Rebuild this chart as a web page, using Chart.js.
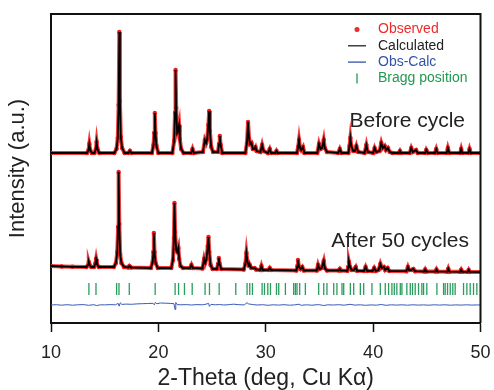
<!DOCTYPE html>
<html>
<head>
<meta charset="utf-8">
<script src="https://cdn.jsdelivr.net/npm/chart.js@4.4.1/dist/chart.umd.min.js"></script>
<style>
  body { margin: 0; background: #fff; }
  #wrap { width: 494px; height: 390px; }
</style>
</head>
<body>
<div id="wrap"><canvas id="myChart" width="494" height="390"></canvas></div>
<script>
// XRD refinement, values: [2theta, intensity above own baseline]
const beforeCycle = [
  [10, 0],
  [13.35, 0], [13.5, 3], [13.57, 9], [13.65, 3], [13.8, 0],
  [14.05, 0], [14.18, 4], [14.25, 11], [14.33, 4], [14.5, 0],
  [15.9, 0], [16.1, 4], [16.22, 15], [16.3, 48], [16.36, 121], [16.42, 52], [16.5, 16], [16.62, 5], [16.85, 0],
  [17.2, 0], [17.35, 2], [17.5, 0],
  [19.4, 0], [19.55, 8], [19.62, 20], [19.67, 40], [19.73, 20], [19.82, 7], [20.0, 0],
  [21.3, 0], [21.47, 12], [21.55, 40], [21.6, 83], [21.66, 45], [21.75, 20], [21.83, 22], [21.93, 28], [22.0, 14], [22.12, 4], [22.35, 0],
  [23.05, 0], [23.18, 4], [23.3, 0],
  [24.15, 1], [24.33, 13], [24.45, 10], [24.55, 14], [24.66, 28], [24.73, 42], [24.8, 22], [24.92, 6], [25.1, 1],
  [25.55, 1], [25.65, 9], [25.72, 17], [25.8, 8], [25.95, 0],
  [28.1, 0], [28.25, 10], [28.35, 31], [28.45, 14], [28.55, 9], [28.67, 10], [28.8, 4], [28.92, 4], [29.04, 6], [29.15, 2],
  [29.5, 1], [29.66, 8], [29.8, 2],
  [30.2, 0], [30.37, 4], [30.5, 0],
  [30.9, 0], [31.0, 2], [31.1, 0],
  [32.9, 0], [33.02, 6], [33.1, 13], [33.2, 5], [33.3, 3], [33.47, 6], [33.6, 0],
  [34.8, 0], [34.96, 9], [35.1, 4], [35.25, 5], [35.4, 13], [35.5, 5], [35.7, 1],
  [36.75, 0], [36.9, 4], [37.05, 0],
  [37.7, 0], [37.8, 7], [37.88, 15], [37.97, 7], [38.15, 2], [38.3, 2], [38.44, 7], [38.6, 1],
  [39.2, 0], [39.37, 8], [39.5, 1],
  [40.0, 0], [40.14, 5], [40.3, 1], [40.6, 2], [40.76, 10], [40.9, 5], [41.07, 7], [41.2, 3], [41.38, 5], [41.55, 1], [41.8, 0],
  [42.4, 0], [42.5, 2], [42.6, 0],
  [43.4, 0], [43.55, 5], [43.7, 1], [44.0, 3], [44.15, 0],
  [44.85, 0], [44.95, 3], [45.1, 0],
  [45.75, 0], [45.88, 4], [46.0, 0],
  [46.85, 0], [46.96, 5], [47.1, 0],
  [48.1, 0], [48.2, 4], [48.3, 0],
  [48.88, 0], [48.98, 4], [49.1, 0],
  [50, 0]
]

const after50 = [
  [10, 6], [11, 5.5], [12, 5.2],
  [13.3, 5], [13.45, 7], [13.52, 10], [13.6, 7], [13.75, 5],
  [14.0, 5], [14.12, 8], [14.2, 13], [14.28, 8], [14.45, 5],
  [15.85, 5], [16.05, 9], [16.17, 20], [16.25, 45], [16.3, 100], [16.36, 48], [16.44, 18], [16.56, 9], [16.8, 5],
  [17.2, 4.5], [17.3, 6], [17.45, 4.5],
  [19.3, 4], [19.47, 10], [19.54, 20], [19.58, 39], [19.64, 20], [19.74, 9], [19.95, 4],
  [21.2, 4], [21.36, 12], [21.45, 34], [21.5, 69], [21.56, 40], [21.66, 22], [21.76, 20], [21.86, 24], [21.94, 13], [22.06, 6], [22.3, 4],
  [22.95, 4], [23.08, 7], [23.2, 4],
  [24.1, 3.5], [24.26, 13], [24.36, 9], [24.48, 13], [24.6, 26], [24.67, 35], [24.74, 20], [24.86, 7], [25.05, 3],
  [25.45, 3], [25.56, 8], [25.63, 14], [25.71, 8], [25.85, 3],
  [27.95, 2.5], [28.1, 8], [28.2, 19], [28.3, 10], [28.45, 6], [28.52, 7], [28.65, 4], [28.95, 4], [29.1, 2.5],
  [29.5, 2], [29.6, 6], [29.72, 2],
  [30.25, 2], [30.37, 4], [30.5, 2],
  [32.85, 1.5], [32.95, 6], [33.0, 12], [33.1, 5], [33.25, 3], [33.4, 5], [33.55, 1.5],
  [34.75, 1.5], [34.87, 7], [35.0, 3], [35.2, 4], [35.4, 11], [35.5, 4], [35.7, 1.5],
  [36.8, 1.5], [36.9, 3], [37.0, 1.5],
  [37.6, 1.2], [37.68, 5], [37.75, 10], [37.85, 5], [38.0, 2], [38.2, 2], [38.38, 5], [38.5, 1.2],
  [39.15, 1], [39.3, 5], [39.45, 1],
  [39.95, 1], [40.1, 4], [40.25, 1], [40.5, 2], [40.67, 8], [40.8, 4], [41.0, 5], [41.12, 2], [41.35, 4], [41.5, 1],
  [43.1, 0.8], [43.24, 5], [43.35, 2], [43.55, 2], [43.75, 3], [43.9, 0.8],
  [44.75, 0.5], [44.85, 2.5], [44.95, 0.5],
  [45.8, 0.4], [45.9, 2.5], [46.0, 0.4],
  [46.9, 0.3], [47.0, 3.3], [47.1, 0.3],
  [48.1, 0.2], [48.2, 2.2], [48.3, 0.2],
  [48.8, 0.1], [48.9, 2.1], [49.0, 0.1],
  [50, 0]
]

const obsMinusCalc = [
  [10, 0], [10.5, 0.3], [11, -0.2], [11.5, 0.3], [12, -0.2], [12.5, 0.2], [13, 0.4], [13.5, -0.3],
  [14, 0.3], [14.25, -0.6], [14.6, 0.2], [15, 0.1], [15.5, 0.4], [16, 0.2], [16.25, 1.6], [16.35, -1.2],
  [16.45, 2.2], [16.6, 0.6], [17, 0.9], [17.5, 0.7], [18, 1.1], [18.5, 1.3], [19, 1.5], [19.5, 1.7],
  [19.62, 0.2], [19.72, 2.6], [19.85, 1.3], [20.2, 2], [20.7, 1.8], [21.1, 1.6], [21.45, 1.3],
  [21.55, -4.5], [21.62, 2.5], [21.75, 0.4], [22.1, 0.2], [22.6, 0.4], [23.1, 0], [23.6, 0.4],
  [24.1, 0.2], [24.35, 0.6], [24.68, 1.6], [24.75, -1.4], [24.9, 0.6], [25.3, 0.2], [25.7, 0.5],
  [26.1, 0], [26.6, 0.4], [27, 0.8], [27.5, 0.3], [28, 0.1], [28.25, 2.3], [28.4, 1.1], [28.8, 0.4],
  [29.2, 0], [29.7, 0.3], [30.2, -0.3], [30.7, 0.2], [31.2, -0.1], [31.7, 0.3], [32.2, -0.2],
  [32.7, 0.1], [33.1, 0.8], [33.3, -0.3], [33.8, 0.2], [34.3, -0.2], [34.9, 0.4], [35.4, -0.5],
  [35.8, 0.2], [36.3, 0], [36.8, 0.3], [37.3, -0.2], [37.85, 0.7], [38.3, -0.1], [38.8, 0.2],
  [39.3, -0.3], [39.8, 0.1], [40.3, -0.2], [40.75, 0.5], [41.2, -0.3], [41.7, 0.2], [42.2, -0.1],
  [42.7, 0.2], [43.2, -0.2], [43.7, 0.2], [44.2, -0.1], [44.7, 0.1], [45.2, -0.2], [45.7, 0.2],
  [46.2, -0.1], [46.7, 0.2], [47.2, -0.2], [47.7, 0.1], [48.2, -0.1], [48.7, 0.2], [49.2, -0.1],
  [49.7, 0.1], [50, 0]
]

const braggPositions = [13.53, 14.19, 16.11, 16.33, 17.29, 19.7, 21.56, 21.88, 22.43, 23.15, 24.35, 24.76,
  25.66, 27.21, 28.26, 28.51, 28.76, 29.66, 29.88, 30.19, 30.44, 31.0, 31.21, 31.83, 32.6, 32.76, 32.91,
  33.16, 33.69, 34.93, 35.4, 35.7, 36.33, 36.63, 37.1, 37.26, 37.88, 38.19, 38.81, 39.12, 39.89, 40.67,
  41.13, 41.44, 41.75, 41.97, 42.21, 42.53, 42.68, 43.14, 43.46, 43.67, 43.92, 44.23, 44.54, 44.7, 45.0,
  45.94, 46.56, 46.71, 46.93, 47.18, 47.42, 47.64, 48.42, 48.73, 49.04, 49.35, 49.66]

const legendLabels = ['Observed', 'Calculated', 'Obs-Calc', 'Bragg position']
const legendColors = ['#ee2a2a', '#222222', '#3452a8', '#1f9a50']
const xTicks = [10, 20, 30, 40, 50]

// vertical stacking of the curves (y axis is arbitrary units)
const beforeShift = 170
const afterShift = 51
const braggLevel = 34
const diffShift = 18

const FONT = '"Liberation Sans", Arial, sans-serif'
const shift = (pts, dy) => pts.map(p => ({ x: p[0], y: p[1] + dy }))

const obsStyle = {
  showLine: true, borderColor: 'rgba(240,25,25,0.85)', borderWidth: 4,
  pointRadius: 2.2, pointBackgroundColor: '#f01818', pointBorderWidth: 0, order: 2
}
const calcStyle = { showLine: true, borderColor: '#000', borderWidth: 1.8, pointRadius: 0, order: 1 }

const extras = {
  id: 'extras',
  afterDraw(chart) {
    const ctx = chart.ctx
    const a = chart.chartArea
    ctx.save()
    // top and right frame
    ctx.strokeStyle = '#111'
    ctx.lineWidth = 2
    ctx.beginPath()
    ctx.moveTo(a.left, a.top)
    ctx.lineTo(a.right, a.top)
    ctx.lineTo(a.right, a.bottom)
    ctx.stroke()

    // legend
    ctx.font = '14px ' + FONT
    ctx.textBaseline = 'middle'
    ctx.textAlign = 'left'
    legendLabels.forEach((lab, i) => {
      const y = 29.5 + i * 16.3
      const c = legendColors[i]
      ctx.fillStyle = c
      ctx.strokeStyle = c
      if (i === 0) {
        ctx.beginPath(); ctx.arc(357, y, 2.5, 0, Math.PI * 2); ctx.fill()
      } else if (i === 3) {
        ctx.lineWidth = 1.3
        ctx.beginPath(); ctx.moveTo(357, y - 5); ctx.lineTo(357, y + 5); ctx.stroke()
      } else {
        ctx.lineWidth = 1.3
        ctx.beginPath(); ctx.moveTo(348, y); ctx.lineTo(366, y); ctx.stroke()
      }
      ctx.fillText(lab, 378, y)
    })

    // sample labels
    ctx.fillStyle = '#222'
    ctx.font = '21px ' + FONT
    ctx.textAlign = 'right'
    ctx.fillText('Before cycle', 465, 121)
    ctx.fillText('After 50 cycles', 469, 241)
    ctx.restore()
  }
}

const ctx = document.getElementById('myChart').getContext('2d')
new Chart(ctx, {
  type: 'scatter',
  data: {
    datasets: [
      Object.assign({ label: 'Observed', data: shift(beforeCycle, beforeShift) }, obsStyle),
      Object.assign({ label: 'Calculated', data: shift(beforeCycle, beforeShift) }, calcStyle),
      Object.assign({ label: 'Observed after', data: shift(after50, afterShift) }, obsStyle),
      Object.assign({ label: 'Calculated after', data: shift(after50, afterShift) }, calcStyle),
      {
        label: 'Obs-Calc', data: shift(obsMinusCalc, diffShift), showLine: true,
        borderColor: '#3a5bb8', borderWidth: 1, pointRadius: 0, order: 3
      },
      {
        label: 'Bragg position', data: braggPositions.map(p => ({ x: p, y: braggLevel })),
        showLine: false, pointStyle: 'line', rotation: 90, pointRadius: 6,
        borderColor: '#2a9d5c', borderWidth: 1.3, order: 3
      }
    ]
  },
  options: {
    responsive: false,
    animation: false,
    layout: { padding: { top: 14, right: 13.5, left: 0, bottom: 0 } },
    plugins: { legend: { display: false }, tooltip: { enabled: false } },
    scales: {
      x: {
        type: 'linear', min: 10, max: 50,
        afterFit: s => { s.height = 67; s.paddingLeft = 0; s.paddingRight = 0 },
        afterBuildTicks: s => { s.ticks = xTicks.map(v => ({ value: v })) },
        ticks: { color: '#222', font: { family: FONT, size: 18 }, padding: 10 },
        grid: { drawOnChartArea: false, drawTicks: true, tickLength: 9, tickWidth: 1.5, tickColor: '#111' },
        border: { color: '#111', width: 2 },
        title: {
          display: true, text: '2-Theta (deg, Cu Kα)', color: '#222',
          font: { family: FONT, size: 23, lineHeight: 1 }, padding: { top: 0, bottom: 0 }
        }
      },
      y: {
        min: 0, max: 309,
        afterFit: s => { s.width = 51 },
        ticks: { display: false },
        grid: { display: false },
        border: { color: '#111', width: 2 },
        title: {
          display: true, text: 'Intensity (a.u.)', color: '#222',
          font: { family: FONT, size: 22, lineHeight: 1 }, padding: { top: 7, bottom: 0 }
        }
      }
    }
  },
  plugins: [extras]
})
</script>
</body>
</html>
